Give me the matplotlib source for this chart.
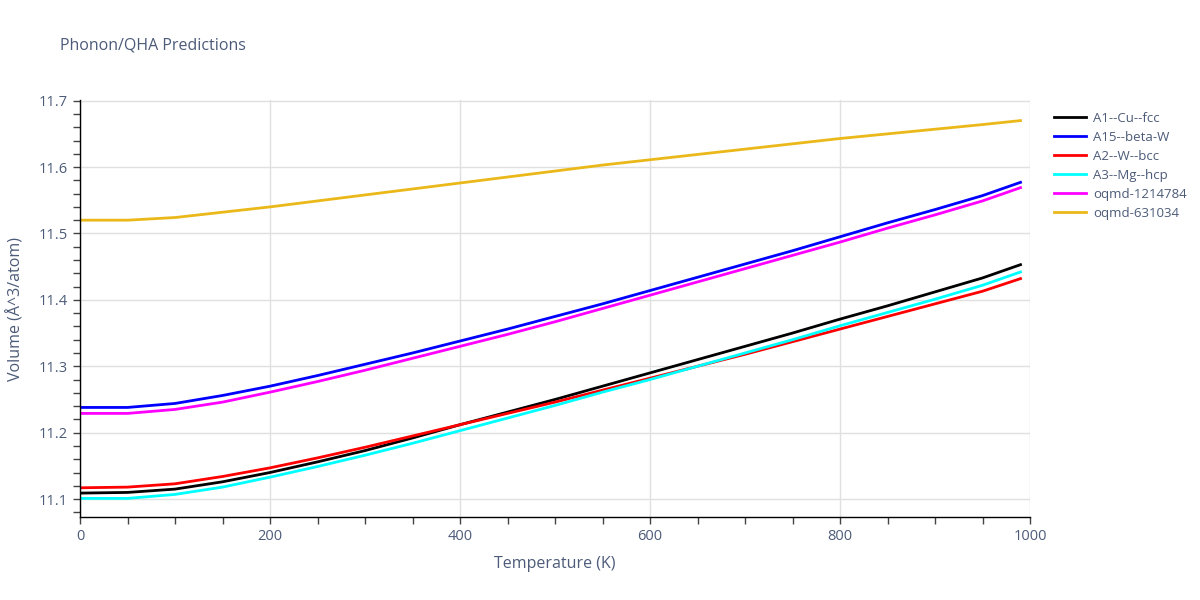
import numpy as np
import matplotlib
matplotlib.use("Agg")
import matplotlib.pyplot as plt
from matplotlib.ticker import MultipleLocator

plt.rcParams['font.family'] = ['Open Sans', 'DejaVu Sans']

# temperatures (K) and volumes (A^3/atom)
temps = [0, 50, 100, 150, 200, 250, 300, 350, 400, 450, 500,
         550, 600, 650, 700, 750, 800, 850, 900, 950, 990]

a1_cu_fcc = [11.109, 11.110, 11.115, 11.126, 11.140, 11.156, 11.173, 11.192, 11.212, 11.231, 11.250,
             11.270, 11.290, 11.310, 11.330, 11.350, 11.371, 11.391, 11.412, 11.433, 11.453]
a15_beta_w = [11.238, 11.238, 11.244, 11.256, 11.270, 11.286, 11.303, 11.320, 11.338, 11.356, 11.375,
              11.394, 11.414, 11.434, 11.454, 11.474, 11.495, 11.516, 11.536, 11.557, 11.577]
a2_w_bcc = [11.117, 11.118, 11.123, 11.134, 11.147, 11.162, 11.178, 11.195, 11.212, 11.229, 11.246,
            11.264, 11.282, 11.300, 11.318, 11.337, 11.356, 11.375, 11.394, 11.413, 11.432]
a3_mg_hcp = [11.101, 11.101, 11.107, 11.118, 11.133, 11.149, 11.166, 11.184, 11.203, 11.222, 11.241,
             11.261, 11.280, 11.300, 11.320, 11.340, 11.361, 11.381, 11.401, 11.422, 11.442]
oqmd_1214784 = [11.229, 11.229, 11.235, 11.246, 11.261, 11.277, 11.294, 11.312, 11.330, 11.348, 11.367,
                11.387, 11.407, 11.427, 11.447, 11.467, 11.487, 11.508, 11.528, 11.549, 11.569]
oqmd_631034 = [11.520, 11.520, 11.524, 11.532, 11.540, 11.549, 11.558, 11.567, 11.576, 11.585, 11.594,
               11.603, 11.611, 11.619, 11.627, 11.635, 11.643, 11.650, 11.657, 11.664, 11.670]

series = [
    ("A1--Cu--fcc", a1_cu_fcc, "black"),
    ("A15--beta-W", a15_beta_w, "blue"),
    ("A2--W--bcc", a2_w_bcc, "red"),
    ("A3--Mg--hcp", a3_mg_hcp, "cyan"),
    ("oqmd-1214784", oqmd_1214784, "magenta"),
    ("oqmd-631034", oqmd_631034, "#ebb81a"),
]

text_col = "#4c5b78"

fig = plt.figure(figsize=(12, 6), dpi=100)
ax = fig.add_axes([80 / 1200, 1 - 517 / 600, 950 / 1200, 417 / 600])

for name, vals, col in series:
    ax.plot(temps, vals, color=col, lw=2, label=name)

ax.set_xlim(0, 1000)
ax.set_ylim(11.073, 11.701)

ax.xaxis.set_major_locator(MultipleLocator(200))
ax.xaxis.set_minor_locator(MultipleLocator(50))
ax.yaxis.set_major_locator(MultipleLocator(0.1))
ax.yaxis.set_minor_locator(MultipleLocator(0.02))
ax.yaxis.set_major_formatter(matplotlib.ticker.FormatStrFormatter('%.1f'))

ax.grid(True, which='major', color='#e0e0e0', lw=1)
ax.set_axisbelow(True)
for s in ['top', 'right']:
    ax.spines[s].set_visible(False)
for s in ['left', 'bottom']:
    ax.spines[s].set_color('black')
    ax.spines[s].set_linewidth(1)

ax.tick_params(which='both', direction='out', color='#444444', labelcolor=text_col,
               labelsize=10.5, width=1)
ax.tick_params(which='major', length=5, pad=4)
ax.tick_params(which='minor', length=5)

ax.set_xlabel("Temperature (K)", color=text_col, fontsize=11.5, labelpad=8)
ax.set_ylabel("Volume (Å^3/atom)", color=text_col, fontsize=11.5, labelpad=10)

fig.text(60 / 1200, 1 - 45 / 600, "Phonon/QHA Predictions", color=text_col,
         fontsize=11.5, va='center', ha='left')

leg = ax.legend(loc='upper left', bbox_to_anchor=(1.013, 1.0), frameon=False,
                fontsize=9.5, handlelength=2.4, labelspacing=0.45,
                handletextpad=0.55, labelcolor=text_col)

fig.savefig("out.png", dpi=100)
